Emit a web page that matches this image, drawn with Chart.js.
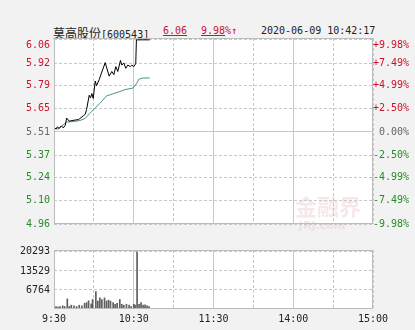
<!DOCTYPE html>
<html>
<head>
<meta charset="utf-8">
<script src="https://cdn.jsdelivr.net/npm/chart.js@4.4.1/dist/chart.umd.min.js"></script>
<style>
    html, body { margin: 0; padding: 0; background: #f2f2f2; }
    #wrap { position: relative; width: 415px; height: 330px; overflow: hidden; }
    canvas { position: absolute; left: 0; }
    #priceChart { top: 0; }
    #volChart { top: 240px; }
    .hd { position: absolute; top: 24px; font: 10px "DejaVu Sans Mono", monospace; color: #222; white-space: nowrap; line-height: 14px; }
    .cn { font: 12px "Noto Sans CJK SC", sans-serif; }
    .red { color: #d0102a; }
    .u { text-decoration: underline; }
</style>
</head>
<body>
<div id="wrap">
    <div class="hd" style="left:53px"><span class="cn">莫高股份</span>[600543]</div>
    <div class="hd red" style="left:163px"><span class="u">6.06</span></div>
    <div class="hd red" style="left:201px"><span class="u">9.98</span>%↑</div>
    <div class="hd" style="left:261px">2020-06-09 10:42:17</div>
    <canvas id="priceChart" width="415" height="240"></canvas>
    <canvas id="volChart" width="415" height="90"></canvas>
</div>
<script>
// minutes after 9:30 (0..240 = whole trading day)
const timeLabels = ["9:30", "10:30", "11:30", "14:00", "15:00"];
const prevClose = 5.51;

const priceTickLabels = ["6.06", "5.92", "5.79", "5.65", "5.51", "5.37", "5.24", "5.10", "4.96"];
const pctTickLabels = ["+9.98%", "+7.49%", "+4.99%", "+2.50%", "0.00%", "-2.50%", "-4.99%", "-7.49%", "-9.98%"];

const priceMinutes = [0, 1.5, 2.5, 4, 5.5, 7, 8.5, 9.5, 11.5, 13.5, 18.5, 22, 23.5, 24.5, 26.5, 27.5, 28.5, 29.5, 31, 32, 34, 38.5,
    41.5, 43.5, 45, 46.5, 48, 50, 51, 52.5, 54, 55.5, 57.5, 58.5, 60, 61.5, 62, 72];
const priceValues = [5.54, 5.527, 5.54, 5.531, 5.546, 5.534, 5.55, 5.593, 5.574, 5.578, 5.584, 5.606, 5.616, 5.644, 5.729, 5.714, 5.739, 5.71, 5.814, 5.786, 5.823, 5.924,
    5.843, 5.871, 5.852, 5.90, 5.871, 5.937, 5.909, 5.922, 5.89, 5.909, 5.90, 5.909, 5.90, 5.918, 6.06, 6.06];

const avgMinutes = [0, 3, 9.5, 14.5, 19.5, 23.5, 27, 31, 34.5, 39.5, 44.5, 49.5, 53.5, 59.5, 62, 64, 67, 72];
const avgValues = [5.53, 5.527, 5.569, 5.572, 5.578, 5.591, 5.621, 5.653, 5.68, 5.725, 5.738, 5.751, 5.763, 5.772, 5.798, 5.826, 5.832, 5.832];

const volTickLabels = ["6764", "13529", "20293"];
const volMinutes = [0, 1.5, 3, 4.5, 6.5, 8, 10, 11.5, 13, 15, 17, 19, 21, 23, 24.5, 26, 28, 29, 31.5, 33, 34.5, 36, 38, 39.5,
    41, 42.5, 44.5, 46, 47.5, 49.5, 51, 52.5, 54.5, 56.5, 58, 60, 61, 62.5, 64, 65.5, 67, 68.5, 70, 71.5];
const volValues = [1130, 900, 680, 900, 1130, 900, 3600, 900, 1350, 1130, 900, 1350, 1130, 2030, 2250, 2930, 1800, 3380, 6200, 2820, 3940, 3380, 3940, 2800,
    3150, 2820, 2250, 1690, 2030, 3380, 1690, 1350, 1690, 1350, 900, 1690, 1350, 20293, 1690, 2250, 1350, 1500, 1130, 900];

const red = "#d0102a", green = "#2a8a2a", gray = "#666";
const gridColor = "#c8c8c8";
const axisFont = { family: '"DejaVu Sans Mono", monospace', size: 10 };
const solidMinutes = [60, 120, 180];

const plotFrame = {
    id: "plotFrame",
    beforeDraw(chart) {
        const { ctx, chartArea: a } = chart;
        ctx.save();
        ctx.fillStyle = "#fff";
        ctx.fillRect(a.left, a.top, a.right - a.left, a.bottom - a.top);
        ctx.restore();
    },
    beforeDatasetsDraw(chart) {
        if (chart.canvas.id !== "priceChart") return;
        // faint jrj watermark, bottom right
        const { ctx } = chart;
        ctx.save();
        ctx.fillStyle = "rgba(225, 190, 190, 0.35)";
        ctx.textAlign = "center";
        ctx.font = 'bold 22px "Noto Sans CJK SC"';
        ctx.fillText("金融界", 328, 215);
        ctx.font = 'bold 11px "DejaVu Sans"';
        ctx.fillText("JRJ.com", 322, 229);
        ctx.restore();
    },
    afterDraw(chart) {
        const { ctx, chartArea: a } = chart;
        ctx.save();
        ctx.strokeStyle = "#bcbcbc";
        ctx.lineWidth = 1;
        ctx.strokeRect(a.left + 0.5, a.top + 0.5, a.right - a.left - 1, a.bottom - a.top - 1);
        ctx.restore();
    }
};

const timeAxis = (showLabels) => ({
    type: "linear",
    min: 0,
    max: 240,
    offset: false,
    ticks: {
        display: showLabels,
        stepSize: 30,
        autoSkip: false,
        maxRotation: 0,
        padding: 4,
        color: "#222",
        font: axisFont,
        callback: v => v % 60 === 0 ? timeLabels[v / 60] : ""
    },
    grid: { drawTicks: false, offset: false, color: gridColor },
    border: { display: false, dash: ctx => ctx.tick && solidMinutes.includes(ctx.tick.value) ? [] : [3, 2] },
    afterFit: a => { a.height = showLabels ? 21 : 0; }
});

const tickColor = ctx => {
    const v = parseFloat(priceTickLabels[ctx.index]);
    return v > prevClose ? red : v < prevClose ? green : gray;
};
// top label sits just under the frame, not centred on it
const pushTopDown = (labels) => (v, i) => i === 0 ? ["", labels[i]] : labels[i];

new Chart(document.getElementById("priceChart"), {
    type: "line",
    data: {
        datasets: [
            { data: priceMinutes.map((m, i) => ({ x: m, y: priceValues[i] })), borderColor: "#000", borderWidth: 1, pointRadius: 0, tension: 0 },
            { data: avgMinutes.map((m, i) => ({ x: m, y: avgValues[i] })), borderColor: "#4f8f8f", borderWidth: 1, pointRadius: 0, tension: 0 }
        ]
    },
    options: {
        responsive: false,
        animation: false,
        events: [],
        layout: { padding: { top: 38, bottom: 6, left: 0, right: 6 } },
        plugins: { legend: { display: false }, tooltip: { enabled: false } },
        scales: {
            x: timeAxis(false),
            y: {
                position: "left",
                min: 4.96,
                max: 6.071,
                afterBuildTicks: a => { a.ticks = priceTickLabels.map(t => ({ value: parseFloat(t) })); },
                afterFit: a => { a.width = 54; },
                ticks: { autoSkip: false, padding: 4, font: axisFont, color: tickColor, callback: pushTopDown(priceTickLabels) },
                grid: { drawTicks: false, color: gridColor },
                border: { display: false, dash: ctx => ctx.tick && ctx.tick.value === prevClose ? [] : [3, 2] }
            },
            y2: {
                position: "right",
                min: 4.96,
                max: 6.071,
                afterBuildTicks: a => { a.ticks = priceTickLabels.map(t => ({ value: parseFloat(t) })); },
                afterFit: a => { a.width = 36; },
                ticks: { autoSkip: false, padding: 0, crossAlign: "far", font: axisFont, color: tickColor, callback: pushTopDown(pctTickLabels) },
                grid: { display: false, drawTicks: false },
                border: { display: false }
            }
        }
    },
    plugins: [plotFrame]
});

new Chart(document.getElementById("volChart"), {
    type: "bar",
    data: {
        datasets: [{
            data: volMinutes.map((m, i) => ({ x: m, y: volValues[i] })),
            backgroundColor: "#5e5e5e",
            barThickness: 1
        }]
    },
    options: {
        responsive: false,
        animation: false,
        events: [],
        layout: { padding: { top: 7, bottom: 0, left: 0, right: 42 } },
        plugins: { legend: { display: false }, tooltip: { enabled: false } },
        scales: {
            x: timeAxis(true),
            y: {
                min: 0,
                max: 20970,
                afterBuildTicks: a => { a.ticks = volTickLabels.map(t => ({ value: parseFloat(t) })); },
                afterFit: a => { a.width = 54; },
                ticks: { autoSkip: false, padding: 4, font: axisFont, color: "#222", callback: (v, i) => volTickLabels[i] },
                grid: { drawTicks: false, color: gridColor },
                border: { display: false, dash: [3, 2] }
            }
        }
    },
    plugins: [plotFrame]
});
</script>
</body>
</html>
